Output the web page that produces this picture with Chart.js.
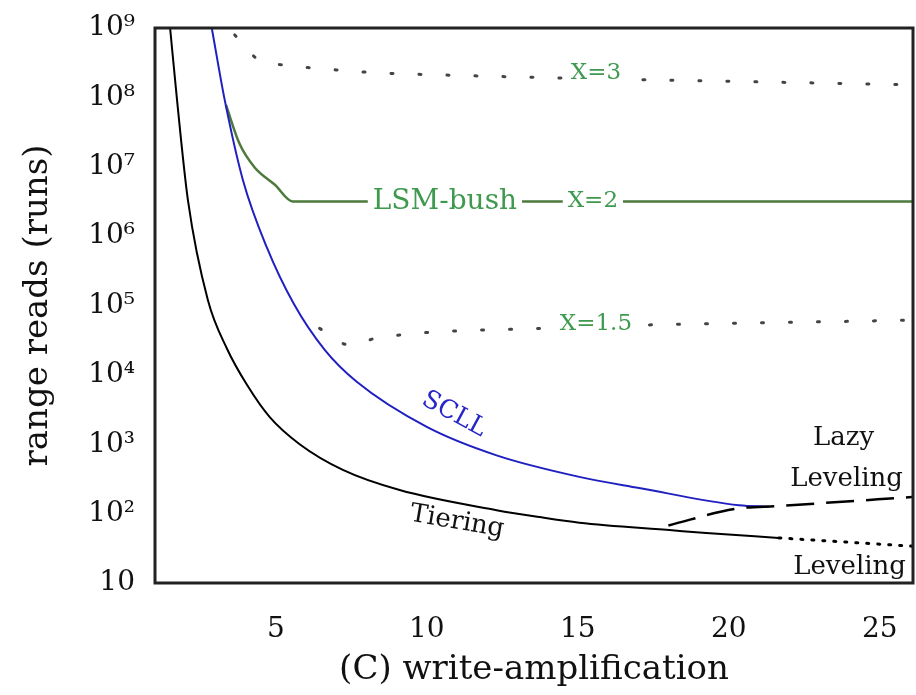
<!DOCTYPE html>
<html>
<head>
<meta charset="utf-8">
<script src="https://cdn.jsdelivr.net/npm/chart.js@4/dist/chart.umd.min.js"></script>
<style>
  html, body { margin: 0; padding: 0; background: #fff; }
  #wrap { width: 916px; height: 695px; }
</style>
</head>
<body>
<div id="wrap"><canvas id="tradeoff-chart"></canvas></div>
<script>
// axis ticks
const xTicks = [5, 10, 15, 20, 25];
const yTicks = [10, 1e2, 1e3, 1e4, 1e5, 1e6, 1e7, 1e8, 1e9];
const yTickLabels = ['10', '10²', '10³', '10⁴', '10⁵', '10⁶', '10⁷', '10⁸', '10⁹'];

// curves (x = write-amplification, y = log10 of range reads)
const tieringX = [1.50, 1.73, 2.09, 2.75, 3.38, 4.04, 4.80, 5.79, 7.22, 9.10, 12.31, 13.73, 15.05, 18.12, 19.25, 21.66];
const tieringY = [9.00, 7.96, 6.52, 5.08, 4.38, 3.86, 3.39, 3.00, 2.63, 2.34, 2.05, 1.95, 1.87, 1.76, 1.72, 1.65];

const levelingX = [21.66, 26.1];
const levelingY = [1.65, 1.53];

const lazyX = [18.0, 20.24, 21.66, 26.1];
const lazyY = [1.83, 2.07, 2.11, 2.24];

const scllX = [2.88, 3.31, 3.91, 4.70, 5.60, 6.62, 7.68, 10.0, 12.31, 15.05, 17.03, 20.34, 21.33];
const scllY = [9.00, 7.96, 6.81, 5.84, 5.02, 4.36, 3.90, 3.25, 2.84, 2.53, 2.37, 2.12, 2.10];

const bushX = [3.35, 3.80, 4.30, 4.97, 5.56, 26.1];
const bushY = [7.89, 7.33, 6.99, 6.74, 6.50, 6.50];

const x3X = [3.64, 4.37, 5.36, 6.36, 8.11, 10.75, 26.1];
const x3Y = [8.90, 8.56, 8.46, 8.42, 8.36, 8.32, 8.18];

const x15X = [6.45, 7.45, 8.34, 13.73, 26.1];
const x15Y = [4.67, 4.43, 4.53, 4.67, 4.79];

// text labels inside the plot
const noteText = ['X=3', 'LSM-bush', 'X=2', 'X=1.5', 'SCLL', 'Tiering', 'Lazy', 'Leveling', 'Leveling'];
const noteX = [15.6, 10.6, 15.5, 15.6, 10.9, 11.0, 23.8, 23.9, 24.0];
const noteY = [8.35, 6.50, 6.50, 4.73, 3.43, 1.88, 3.09, 2.49, 1.22];

const SERIF = '"DejaVu Serif", "Liberation Serif", serif';

function pts(xs, ys) {
    return xs.map((x, i) => ({ x: x, y: Math.pow(10, ys[i]) }));
}

const noteStyle = [
    { color: '#3f9a4f', size: 23, angle: 0, bg: true },
    { color: '#3f9a4f', size: 28, angle: 0, bg: true },
    { color: '#3f9a4f', size: 23, angle: 0, bg: true },
    { color: '#3f9a4f', size: 23, angle: 0, bg: true },
    { color: '#2525c8', size: 25, angle: 0.5, bg: false },
    { color: '#111', size: 26, angle: 0.17, bg: false },
    { color: '#111', size: 26, angle: 0, bg: false },
    { color: '#111', size: 26, angle: 0, bg: false },
    { color: '#111', size: 26, angle: 0, bg: true }
];

const frameAndNotes = {
    id: 'frameAndNotes',
    afterDatasetsDraw(chart) {
        const ctx = chart.ctx;
        const xs = chart.scales.x;
        const ys = chart.scales.y;
        noteText.forEach((t, i) => {
            const st = noteStyle[i];
            const px = xs.getPixelForValue(noteX[i]);
            const py = ys.getPixelForValue(Math.pow(10, noteY[i]));
            ctx.save();
            ctx.translate(px, py);
            ctx.rotate(st.angle);
            ctx.font = st.size + 'px ' + SERIF;
            ctx.textAlign = 'center';
            ctx.textBaseline = 'middle';
            if (st.bg) {
                const w = ctx.measureText(t).width;
                ctx.fillStyle = '#fff';
                ctx.fillRect(-w / 2 - 5, -st.size * 0.6, w + 10, st.size * 1.2);
            }
            ctx.fillStyle = st.color;
            ctx.fillText(t, 0, 0);
            ctx.restore();
        });
        const a = chart.chartArea;
        ctx.save();
        ctx.strokeStyle = '#222';
        ctx.lineWidth = 3;
        ctx.strokeRect(a.left, a.top, a.right - a.left, a.bottom - a.top);
        ctx.restore();
    }
};

const dotted = { borderDash: [2, 26], borderWidth: 3, borderCapStyle: 'round', borderColor: '#444' };

const chartConfig = {
    type: 'line',
    data: {
        datasets: [
            { label: 'Tiering', data: pts(tieringX, tieringY), borderColor: '#000', borderWidth: 2 },
            Object.assign({ label: 'Leveling', data: pts(levelingX, levelingY) }, dotted, { borderDash: [2, 9], borderColor: '#000' }),
            { label: 'Lazy Leveling', data: pts(lazyX, lazyY), borderColor: '#000', borderWidth: 2.5, borderDash: [28, 12] },
            { label: 'SCLL', data: pts(scllX, scllY), borderColor: '#2020c0', borderWidth: 2 },
            { label: 'LSM-bush X=2', data: pts(bushX, bushY), borderColor: '#4d7a3c', borderWidth: 2.5 },
            Object.assign({ label: 'X=3', data: pts(x3X, x3Y) }, dotted),
            Object.assign({ label: 'X=1.5', data: pts(x15X, x15Y) }, dotted)
        ]
    },
    options: {
        responsive: true,
        maintainAspectRatio: false,
        animation: false,
        events: [],
        layout: { padding: { left: 14, right: 3, top: 28, bottom: 0 } },
        elements: {
            point: { radius: 0 },
            line: { cubicInterpolationMode: 'monotone', fill: false }
        },
        scales: {
            x: {
                type: 'linear',
                min: 1,
                max: 26.1,
                afterBuildTicks: s => { s.ticks = xTicks.map(v => ({ value: v })); },
                afterFit: s => { s.height = 112; s.paddingLeft = 0; s.paddingRight = 0; },
                grid: { display: false },
                border: { display: false },
                ticks: { color: '#111', padding: 22, font: { family: SERIF, size: 28 } },
                title: {
                    display: true,
                    text: '(C) write-amplification',
                    color: '#111',
                    padding: { top: 0 },
                    font: { family: SERIF, size: 34 }
                }
            },
            y: {
                type: 'logarithmic',
                min: 10,
                max: 1e9,
                afterBuildTicks: s => { s.ticks = yTicks.map(v => ({ value: v })); },
                afterFit: s => { s.width = 141; s.paddingTop = 0; s.paddingBottom = 0; },
                grid: { display: false },
                border: { display: false },
                ticks: {
                    color: '#111',
                    padding: 12,
                    font: { family: SERIF, size: 28 },
                    callback: v => yTickLabels[yTicks.indexOf(v)]
                },
                title: {
                    display: true,
                    text: 'range reads (runs)',
                    color: '#111',
                    padding: { bottom: 0 },
                    font: { family: SERIF, size: 34 }
                }
            }
        },
        plugins: {
            legend: { display: false },
            tooltip: { enabled: false }
        }
    },
    plugins: [frameAndNotes]
};

new Chart(document.getElementById('tradeoff-chart'), chartConfig);
</script>
</body>
</html>
